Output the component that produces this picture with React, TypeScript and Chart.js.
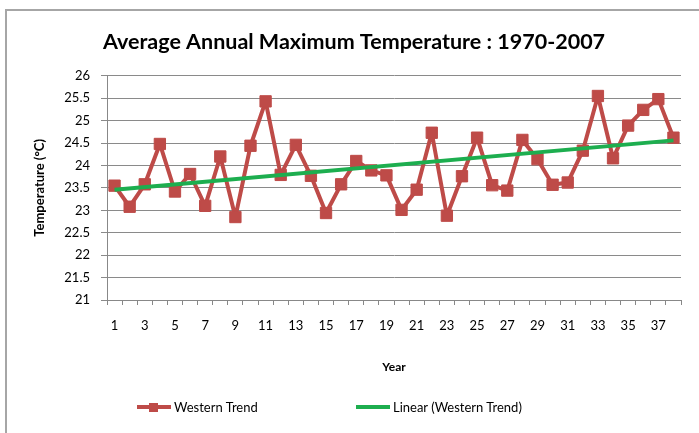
import React, { useEffect, useRef } from "react";
import { Chart, registerables } from "chart.js";

Chart.register(...registerables);

const years: string[] = Array.from({ length: 38 }, (_, i) => String(i + 1));
const westernTrend: number[] = [
  23.55, 23.08, 23.58, 24.48, 23.42, 23.81, 23.1, 24.2, 22.85, 24.44,
  25.43, 23.79, 24.46, 23.77, 22.94, 23.58, 24.1, 23.89, 23.78, 23.01,
  23.46, 24.73, 22.88, 23.76, 24.62, 23.56, 23.44, 24.57, 24.14, 23.57,
  23.62, 24.33, 25.55, 24.16, 24.89, 25.24, 25.48, 24.62,
];
const trendStart = 23.46;
const trendEnd = 24.56;
const linearTrend: (number | null)[] = years.map((_, i) =>
  i === 0 ? trendStart : i === years.length - 1 ? trendEnd : null
);
const yTicks = { min: 21, max: 26, step: 0.5 };

const FONT = "Lato, 'Open Sans', sans-serif";
const RED = "#BE4B48";
const GREEN = "#1DAE4F";

export default function App() {
  const ref = useRef<HTMLCanvasElement | null>(null);
  useEffect(() => {
    if (!ref.current) return;
    const chart = new Chart(ref.current, {
      type: "line",
      data: {
        labels: years,
        datasets: [
          {
            label: "Western Trend",
            data: westernTrend,
            borderColor: RED,
            backgroundColor: RED,
            borderWidth: 4,
            borderJoinStyle: "round",
            pointStyle: "rect",
            pointRadius: 8,
            pointBorderWidth: 1,
            pointBackgroundColor: RED,
            pointBorderColor: RED,
            tension: 0,
            order: 1,
          },
          {
            label: "Linear (Western Trend)",
            data: linearTrend,
            borderColor: GREEN,
            backgroundColor: GREEN,
            borderWidth: 4,
            pointRadius: 0,
            spanGaps: true,
            order: 0,
          },
        ],
      },
      options: {
        responsive: false,
        animation: false,
        layout: { padding: { left: 27, right: 18, top: 0, bottom: 55 } },
        plugins: {
          legend: { display: false },
          tooltip: { enabled: false },
          title: {
            display: true,
            text: "Average Annual Maximum Temperature : 1970-2007",
            color: "#000",
            font: { family: FONT, size: 21.5, weight: "bold" },
            padding: { top: 29, bottom: 21 },
          },
        },
        scales: {
          x: {
            type: "category",
            offset: true,
            grid: {
              offset: true,
              drawOnChartArea: false,
              drawTicks: true,
              tickLength: 5,
              color: "#888",
            },
            border: { display: true, color: "#888", width: 1 },
            ticks: {
              autoSkip: false,
              maxRotation: 0,
              minRotation: 0,
              padding: 13,
              color: "#000",
              font: { family: FONT, size: 13 },
              callback: (_v: any, i: number) => (i % 2 === 0 ? years[i] : ""),
            },
            title: {
              display: true,
              text: "Year",
              color: "#000",
              font: { family: FONT, size: 12, weight: "bold" },
              padding: { top: 0, bottom: 4 },
            },
            afterFit: (s: any) => {
              s.height = 78;
            },
          },
          y: {
            min: yTicks.min,
            max: yTicks.max,
            grid: { color: "#8a8a8a", lineWidth: 1, tickLength: 6, drawTicks: true },
            border: { display: true, color: "#888", width: 1 },
            ticks: {
              stepSize: yTicks.step,
              padding: 11,
              color: "#000",
              font: { family: FONT, size: 13 },
              callback: (v: any) => String(Number(v)),
            },
            title: {
              display: true,
              text: "Temperature (°C)",
              color: "#000",
              font: { family: FONT, size: 13, weight: "bold" },
              padding: { top: 5, bottom: 0 },
            },
            afterFit: (s: any) => {
              s.width = 80;
            },
          },
        },
      },
    });
    return () => chart.destroy();
  }, []);

  const legendText: React.CSSProperties = {
    position: "absolute",
    top: 398,
    fontFamily: FONT,
    fontSize: 13,
    color: "#000",
    lineHeight: "18px",
    whiteSpace: "nowrap",
  };

  return (
    <div style={{ position: "fixed", left: 0, top: 0, width: 699, height: 433, background: "#fff", overflow: "hidden" }}>
      <div
        style={{
          position: "absolute",
          left: 5,
          top: 9,
          width: 720,
          height: 460,
          borderTop: "2px solid #a6a6a6",
          borderLeft: "2px solid #a6a6a6",
        }}
      />
      <canvas ref={ref} width={699} height={433} style={{ position: "absolute", left: 0, top: 0 }} />
      <div style={{ position: "absolute", left: 137, top: 405, width: 34, height: 4, background: RED }} />
      <div style={{ position: "absolute", left: 149, top: 403, width: 9, height: 9, background: RED }} />
      <div style={{ ...legendText, left: 174 }}>Western Trend</div>
      <div style={{ position: "absolute", left: 356, top: 405, width: 34, height: 4, background: GREEN }} />
      <div style={{ ...legendText, left: 393 }}>Linear (Western Trend)</div>
    </div>
  );
}
